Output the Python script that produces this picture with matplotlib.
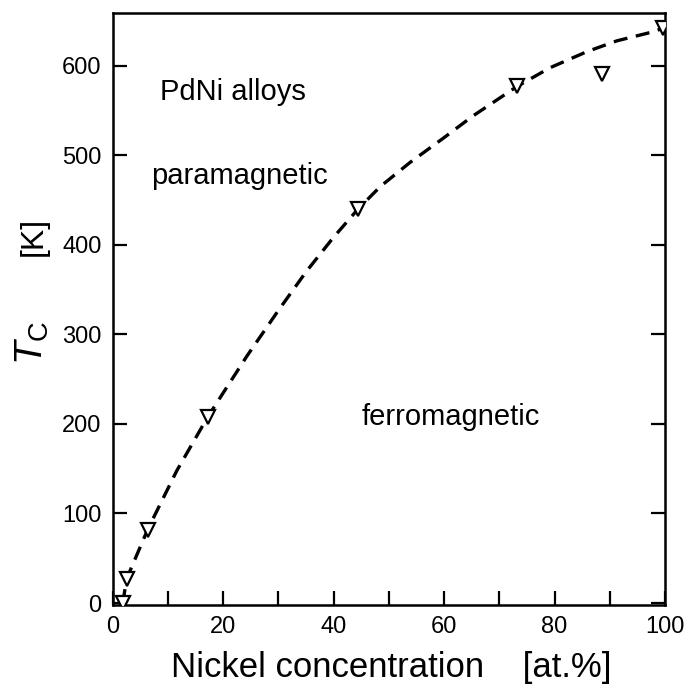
import matplotlib
matplotlib.use('Agg')
import matplotlib.pyplot as plt

plt.rcParams['font.family'] = ['Liberation Sans', 'DejaVu Sans']
plt.rcParams['mathtext.fontset'] = 'custom'
plt.rcParams['mathtext.rm'] = 'Liberation Sans'
plt.rcParams['mathtext.it'] = 'Liberation Sans:italic'

# Measured Curie temperatures of PdNi alloys
ni_conc = [1.8, 2.5, 6.3, 17.2, 44.4, 73.2, 88.6, 99.6]
tc_meas = [0, 27, 82, 208, 440, 577, 591, 642]

# Guide-to-the-eye dashed curve
curve_x = [1.8, 2.5, 6.3, 11.6, 17.2, 24.3, 30.0, 35.0, 39.9, 44.4,
           48.4, 53.8, 59.8, 65.2, 73.2, 79.2, 85.9, 91.3, 97.8, 99.6]
curve_y = [0, 27, 82, 148, 208, 276, 327, 370, 408, 440,
           465, 492, 519, 544, 577, 598, 616, 628, 638, 642]

x_ticks = [0, 20, 40, 60, 80, 100]
x_minor = [10, 30, 50, 70, 90]
y_ticks = [0, 100, 200, 300, 400, 500, 600]


def main():
    fig = plt.figure(figsize=(6.88, 6.87), dpi=100)
    ax = fig.add_axes([0.164, 0.1194, 0.8026, 0.8616])

    ax.plot(curve_x, curve_y, color='black', lw=2.4, dashes=(4.2, 2.6))
    ax.plot(ni_conc, tc_meas, linestyle='none', marker='v', ms=10,
            mfc='white', mec='black', mew=1.6, zorder=3)

    ax.set_xlim(0, 100)
    ax.set_ylim(-2.2, 659)
    ax.set_xticks(x_ticks)
    ax.set_xticks(x_minor, minor=True)
    ax.set_yticks(y_ticks)

    for side in ['left', 'bottom', 'right', 'top']:
        ax.spines[side].set_linewidth(1.8)
    ax.tick_params(axis='both', which='both', direction='in', width=1.6,
                   labelsize=17, pad=8)
    ax.tick_params(axis='both', which='major', length=10)
    ax.tick_params(axis='x', which='minor', length=10)
    ax.tick_params(axis='y', right=True)

    ax.set_xlabel('Nickel concentration    [at.%]', fontsize=25)
    ax.xaxis.label.set_va('baseline')
    ax.xaxis.set_label_coords(0.504, -0.1216)

    ax.text(-0.1458, 0.4426, r'$T_{\mathrm{C}}$', transform=ax.transAxes,
            rotation=90, fontsize=28, ha='center', va='center')
    ax.text(-0.143, 0.623, '[K]', transform=ax.transAxes,
            rotation=90, fontsize=23, ha='center', va='center')

    ax.text(8.5, 562, 'PdNi alloys', fontsize=21, va='baseline')
    ax.text(6.9, 468, 'paramagnetic', fontsize=21, va='baseline')
    ax.text(45.0, 199, 'ferromagnetic', fontsize=21, va='baseline')

    fig.savefig('out.png', dpi=100)


if __name__ == '__main__':
    main()
